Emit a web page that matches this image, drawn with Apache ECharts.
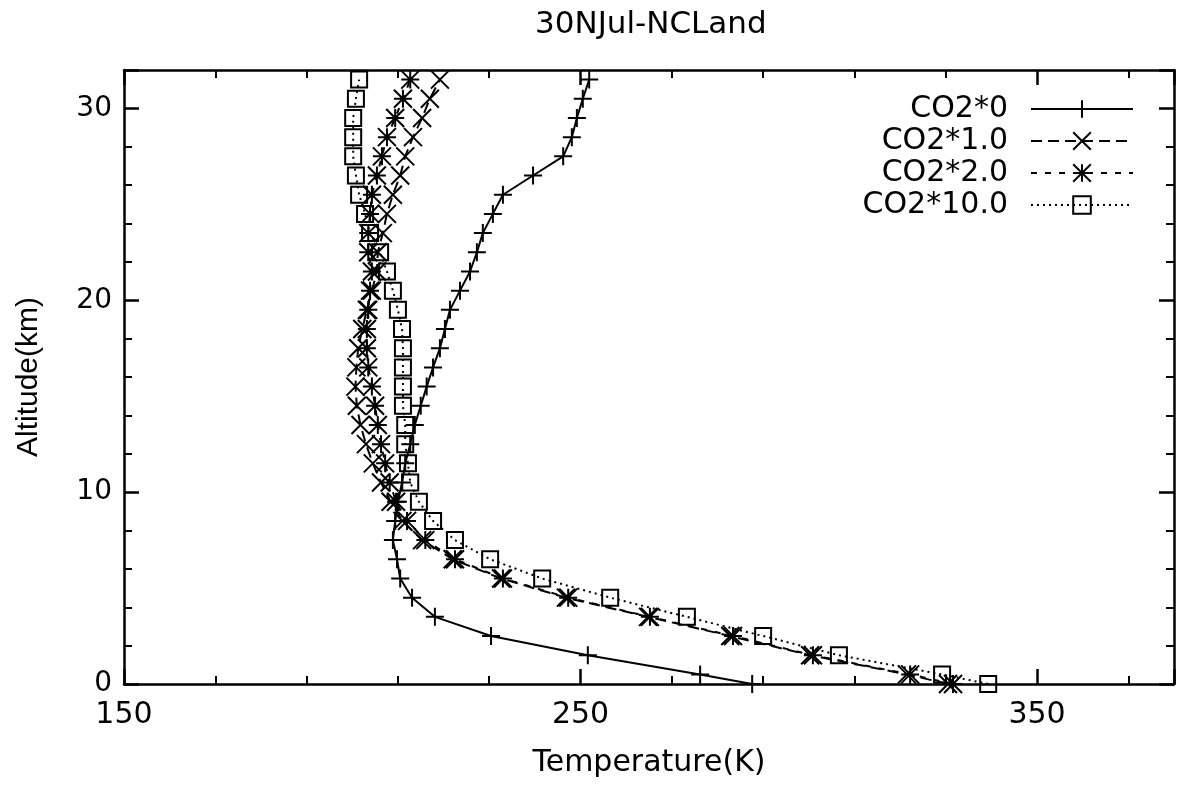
<!DOCTYPE html>
<html><head><meta charset="utf-8">
<script src="https://cdn.jsdelivr.net/npm/echarts@6/dist/echarts.min.js"></script>
<style>html,body{margin:0;padding:0;background:#fff}#c{width:1184px;height:790px}</style>
</head><body><div id="c"></div>
<script>
const altitudes = [0, 0.5, 1.5, 2.5, 3.5, 4.5, 5.5, 6.5, 7.5, 8.5, 9.5, 10.5, 11.5, 12.5, 13.5, 14.5, 15.5,
  16.5, 17.5, 18.5, 19.5, 20.5, 21.5, 22.5, 23.5, 24.5, 25.5, 26.5, 27.5, 28.5, 29.5, 30.5, 31.5];
const tCO2x0 = [287.6, 276.2, 251.6, 230.4, 218.1, 213.1, 210.5, 209.8, 208.9, 209.4, 210.0, 210.9, 211.6,
  212.7, 213.7, 215.0, 216.3, 217.7, 219.2, 220.3, 221.4, 223.6, 225.8, 227.3, 228.6, 230.8, 233.0,
  239.6, 246.2, 248.1, 249.2, 250.5, 251.9];
const tCO2x1 = [330.5, 321.5, 300.3, 282.8, 264.8, 246.8, 232.6, 222.0, 215.3, 211.0, 208.4, 206.3, 204.5,
  203.0, 201.8, 201.0, 200.7, 200.9, 201.3, 202.2, 203.2, 204.3, 205.4, 205.6, 206.7, 207.6, 208.9,
  210.5, 211.6, 213.3, 215.3, 217.0, 219.2];
const tCO2x2 = [331.6, 322.2, 300.9, 283.4, 265.2, 247.3, 233.0, 222.5, 216.0, 212.0, 209.6, 208.2, 207.2,
  206.3, 205.6, 205.0, 204.3, 203.5, 203.2, 203.2, 203.5, 203.9, 204.3, 203.5, 203.5, 203.9, 204.3,
  205.4, 206.5, 207.6, 209.4, 211.1, 212.7];
const tCO2x10 = [339.3, 329.2, 306.6, 290.0, 273.3, 256.5, 241.6, 230.2, 222.5, 217.7, 214.6, 212.7, 212.2,
  211.6, 211.6, 211.1, 211.1, 211.1, 211.1, 210.9, 210.0, 208.9, 207.6, 206.1, 203.9, 202.8, 201.5,
  200.8, 200.2, 200.2, 200.2, 200.8, 201.5];
const seriesNames = ['CO2*0', 'CO2*1.0', 'CO2*2.0', 'CO2*10.0'];
const titleText = '30NJul-NCLand';
const xName = 'Temperature(K)';
const yName = 'Altitude(km)';

const FONT_H = '"DejaVu Sans", "Liberation Sans", Arial, sans-serif';
const FONT_V = '"Liberation Sans", Arial, Helvetica, sans-serif';
const symbols = [
  'path://M0,5L10,5M5,0L5,10',
  'path://M0,0L10,10M10,0L0,10',
  'path://M0,0L10,10M10,0L0,10M5,0L5,10M0,5L10,5',
  'path://M0,0L10,0L10,10L0,10Z'
];
const dashes = ['solid', [11, 6], [6, 8], [2, 4]];
const temps = [tCO2x0, tCO2x1, tCO2x2, tCO2x10];

const chart = echarts.init(document.getElementById('c'), null, {renderer: 'canvas'});
const axisLine = {show: true, onZero: false, lineStyle: {color: '#000', width: 2.5}};
function xAxisDef(pos, showLabel) {
  return {
    type: 'value', position: pos, min: 150, max: 380, interval: 100,
    name: showLabel ? xName : '', nameLocation: 'middle', nameGap: 64,
    nameTextStyle: {fontSize: 30, color: '#000', fontFamily: FONT_H},
    axisLine: axisLine,
    axisTick: {show: true, inside: true, length: 15, lineStyle: {color: '#000', width: 2.5}},
    minorTick: {show: true, splitNumber: 5, length: 8, lineStyle: {color: '#000', width: 2}},
    splitLine: {show: false},
    axisLabel: {show: showLabel, showMaxLabel: false, margin: 16, fontSize: 30, color: '#000', fontFamily: FONT_H}
  };
}
function yAxisDef(pos, showLabel) {
  return {
    type: 'value', position: pos, min: 0, max: 32, interval: 10,
    name: showLabel ? yName : '', nameLocation: 'middle', nameGap: 80, nameRotate: 90,
    nameTextStyle: {fontSize: 30, color: '#000', fontFamily: FONT_V},
    axisLine: axisLine,
    axisTick: {show: true, inside: true, length: 15, lineStyle: {color: '#000', width: 2.5}},
    minorTick: {show: true, splitNumber: 5, length: 8, lineStyle: {color: '#000', width: 2}},
    splitLine: {show: false},
    axisLabel: {show: showLabel, showMaxLabel: false, margin: 12, fontSize: 28, color: '#000', fontFamily: FONT_H}
  };
}

const series = seriesNames.map((name, i) => ({
  name: name,
  type: 'line',
  xAxisIndex: 0, yAxisIndex: 0,
  data: altitudes.map((z, k) => [temps[i][k], z]),
  symbol: symbols[i],
  symbolSize: i === 3 ? 16 : 18,
  showSymbol: true,
  showAllSymbol: true,
  smooth: false,
  lineStyle: {color: '#000', width: 2, type: dashes[i]},
  itemStyle: {color: 'rgba(0,0,0,0)', borderColor: '#000', borderWidth: 2},
  emphasis: {disabled: true},
  animation: false,
  z: 2 + i
}));

chart.setOption({
  animation: false,
  backgroundColor: '#fff',
  title: {
    text: titleText, left: 530, top: 4,
    textStyle: {fontSize: 31, fontWeight: 'normal', color: '#000', fontFamily: FONT_H}
  },
  grid: {left: 124, right: 10, top: 70, bottom: 106, containLabel: false},
  xAxis: [xAxisDef('bottom', true), xAxisDef('top', false)],
  yAxis: [yAxisDef('left', true), yAxisDef('right', false)],
  legend: {
    orient: 'vertical', right: 45, top: 89, align: 'right',
    itemWidth: 102, itemHeight: 22, itemGap: 2,
    textStyle: {fontSize: 30, color: '#000', fontFamily: FONT_H, padding: [0, 18, 0, 0]},
    data: seriesNames
  },
  series: series
});
</script></body></html>
